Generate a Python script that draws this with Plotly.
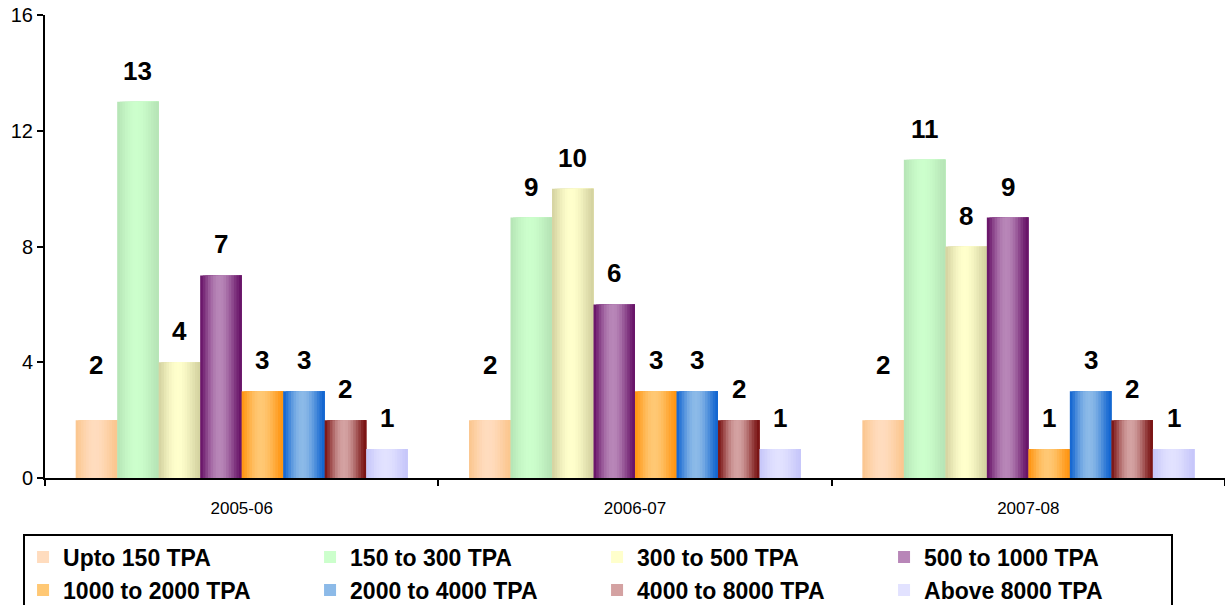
import math
import plotly.graph_objects as go

years = ["2005-06", "2006-07", "2007-08"]
series_names = ["Upto 150 TPA", "150 to 300 TPA", "300 to 500 TPA", "500 to 1000 TPA",
                "1000 to 2000 TPA", "2000 to 4000 TPA", "4000 to 8000 TPA", "Above 8000 TPA"]
upto_150 = [2, 2, 2]
s150_300 = [13, 9, 11]
s300_500 = [4, 10, 8]
s500_1000 = [7, 6, 9]
s1000_2000 = [3, 3, 1]
s2000_4000 = [3, 3, 3]
s4000_8000 = [2, 2, 2]
above_8000 = [1, 1, 1]
y_ticks = [0, 4, 8, 12, 16]

series_values = [upto_150, s150_300, s300_500, s500_1000,
                 s1000_2000, s2000_4000, s4000_8000, above_8000]
# (edge colour, light centre colour) of each bar's horizontal gradient
edge_colors = ["#FBC68E", "#B6E4B6", "#D4D2A0", "#661166",
               "#FF9410", "#1064D0", "#781010", "#C6C6FA"]
light_colors = ["#FFDCBE", "#CCFFCC", "#FFFFCC", "#B886B8",
                "#FFC874", "#8CBAE8", "#D4A2A2", "#E2E2FF"]

n = len(series_names)
bargap = 0.156
bw = (1 - bargap) / n
strips = 16


def hex2rgb(h):
    h = h.lstrip("#")
    return [int(h[k:k + 2], 16) for k in (0, 2, 4)]


def mix(c1, c2, t):
    a, b = hex2rgb(c1), hex2rgb(c2)
    return "rgb(%d,%d,%d)" % tuple(round(a[k] + (b[k] - a[k]) * t) for k in range(3))


fig = go.Figure()
annotations = []
for i, (name, vals) in enumerate(zip(series_names, series_values)):
    start = -(1 - bargap) / 2 + i * bw
    d = bw / strips
    for j in range(strips):
        u = ((j + 0.5) / strips) ** 0.9
        t = math.sin(math.pi * u) ** 1.4
        fig.add_trace(go.Bar(
            x=years, y=vals, name=name, legendgroup=name,
            showlegend=(j == strips // 2 - 1),
            offset=start + j * d, width=bw - j * d,
            marker=dict(color=mix(edge_colors[i], light_colors[i], t), line=dict(width=0)),
            hovertemplate=name + ": %{y}<extra></extra>"))
    for g, v in enumerate(vals):
        annotations.append(dict(
            x=g + start + bw / 2, y=v, xref="x", yref="y",
            text=f"<b>{v}</b>", showarrow=False, yanchor="bottom",
            yshift=38 if i == 0 else 14,
            font=dict(family="Liberation Sans, Arial", size=26, color="black")))

fig.update_layout(
    width=1225, height=605,
    barmode="overlay",
    plot_bgcolor="white", paper_bgcolor="white",
    margin=dict(l=45, r=0, t=15, b=127, autoexpand=False),
    font=dict(family="Liberation Sans, Arial", color="black"),
    annotations=annotations,
    xaxis=dict(type="category", range=[-0.5, 2.5], showline=True, linecolor="black",
               linewidth=2, ticks="outside", tickson="boundaries", ticklen=6,
               tickwidth=2, tickcolor="black", tickfont=dict(size=17), showgrid=False,
               ticklabelstandoff=14),
    yaxis=dict(range=[0, 16], tickvals=y_ticks, showline=True, linecolor="black",
               linewidth=2, ticks="outside", ticklen=6, tickwidth=2, tickcolor="black",
               tickfont=dict(size=20), showgrid=False, zeroline=False),
    legend=dict(orientation="h", x=-0.0186, y=-0.12, xanchor="left", yanchor="top",
                bordercolor="black", borderwidth=2, bgcolor="white",
                font=dict(size=23, family="Liberation Sans, Arial", color="black",
                          weight="bold"),
                entrywidth=242, tracegroupgap=0, itemclick=False),
)
fig.write_html("out.html", config={"displayModeBar": False},
               post_script="document.body.style.margin='0';")
